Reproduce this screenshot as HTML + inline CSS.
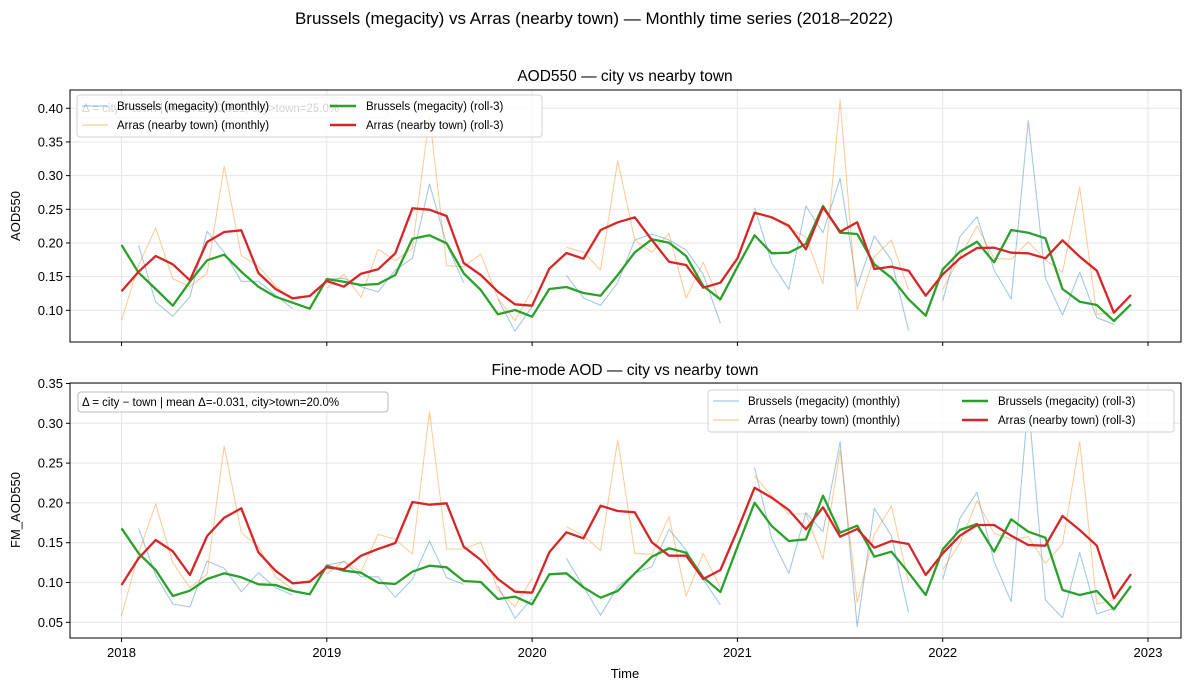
<!DOCTYPE html>
<html><head><meta charset="utf-8"><style>
body{margin:0;background:#fff;}
svg text{font-family:"Liberation Sans","DejaVu Sans",sans-serif;fill:#000;}
</style></head><body>
<svg id="s" width="1189" height="691" xmlns="http://www.w3.org/2000/svg">
<rect width="1189" height="691" fill="#fff"/>
<text x="594" y="24" font-size="17" text-anchor="middle">Brussels (megacity) vs Arras (nearby town) — Monthly time series (2018–2022)</text>
<text x="625" y="81" font-size="15.5" text-anchor="middle">AOD550 — city vs nearby town</text>
<text x="625" y="375" font-size="15.5" text-anchor="middle">Fine-mode AOD — city vs nearby town</text>
<g id="grid"></g>
<g id="lines"></g>
<rect x="70" y="90" width="1111" height="252" fill="none" stroke="#000" stroke-width="1"/>
<rect x="70" y="383" width="1111" height="255" fill="none" stroke="#000" stroke-width="1"/>
<g id="ticks" font-size="13"></g>
<text x="20" y="216" font-size="13" text-anchor="middle" transform="rotate(-90 20 216)">AOD550</text>
<text x="20" y="510" font-size="13" text-anchor="middle" transform="rotate(-90 20 510)">FM_AOD550</text>
<text x="625" y="678" font-size="13" text-anchor="middle">Time</text>
<!-- top annotation (behind legend) -->
<rect x="78" y="98" width="310" height="20" rx="3" fill="#fff" stroke="#ccc"/>
<text x="82" y="112" font-size="11.5">Δ = city − town | mean Δ=-0.021, city&gt;town=25.0%</text>
<!-- top legend -->
<rect x="77" y="95" width="465" height="42" rx="3" fill="rgba(255,255,255,0.82)" stroke="#d0d0d0"/>
<line x1="82" y1="106" x2="108" y2="106" stroke="#1f77b4" stroke-opacity="0.4" stroke-width="1.2"/>
<text x="117" y="110" font-size="11.5">Brussels (megacity) (monthly)</text>
<line x1="82" y1="125" x2="108" y2="125" stroke="#ff7f0e" stroke-opacity="0.4" stroke-width="1.2"/>
<text x="117" y="129" font-size="11.5">Arras (nearby town) (monthly)</text>
<line x1="330" y1="106" x2="356" y2="106" stroke="#2ca02c" stroke-width="2.5"/>
<text x="366" y="110" font-size="11.5">Brussels (megacity) (roll-3)</text>
<line x1="330" y1="125" x2="356" y2="125" stroke="#d62728" stroke-width="2.5"/>
<text x="366" y="129" font-size="11.5">Arras (nearby town) (roll-3)</text>
<!-- bottom annotation -->
<rect x="78" y="392" width="310" height="20" rx="3" fill="#fff" stroke="#bbb"/>
<text x="82" y="406" font-size="11.5">Δ = city − town | mean Δ=-0.031, city&gt;town=20.0%</text>
<!-- bottom legend -->
<rect x="708" y="390" width="466" height="42" rx="3" fill="rgba(255,255,255,0.82)" stroke="#d0d0d0"/>
<line x1="713" y1="401" x2="739" y2="401" stroke="#1f77b4" stroke-opacity="0.4" stroke-width="1.2"/>
<text x="748" y="405" font-size="11.5">Brussels (megacity) (monthly)</text>
<line x1="713" y1="420" x2="739" y2="420" stroke="#ff7f0e" stroke-opacity="0.4" stroke-width="1.2"/>
<text x="748" y="424" font-size="11.5">Arras (nearby town) (monthly)</text>
<line x1="962" y1="401" x2="988" y2="401" stroke="#2ca02c" stroke-width="2.5"/>
<text x="998" y="405" font-size="11.5">Brussels (megacity) (roll-3)</text>
<line x1="962" y1="420" x2="988" y2="420" stroke="#d62728" stroke-width="2.5"/>
<text x="998" y="424" font-size="11.5">Arras (nearby town) (roll-3)</text>
</svg>
<script>
var N=null;
var T={
b:[N,466,636,679,620,424,487,574,574,615,656,N,567,565,590,606,540,505,282,462,578,N,628,723,650,N,556,624,646,578,450,432,450,480,553,700,N,353,518,598,348,428,265,590,438,510,722,N,632,440,380,540,627,92,565,675,547,683,703,N],
o:[691,526,414,566,590,550,228,497,528,587,632,N,595,553,622,478,512,475,75,527,530,492,625,692,600,N,472,487,540,212,450,487,430,625,517,638,N,372,380,415,440,582,30,660,500,450,600,N,598,500,408,505,508,455,510,547,292,673,668,N],
g:[465,548,597,647,575,511,494,545,590,620,638,656,567,575,585,582,555,446,436,460,550,600,673,660,680,597,591,609,617,555,487,448,458,498,588,628,530,436,490,488,462,348,428,432,523,563,628,677,538,485,455,517,420,428,445,597,635,645,693,643],
r:[604,545,498,523,571,456,426,421,549,597,625,618,573,590,551,538,490,355,359,378,519,555,605,643,647,536,489,506,420,397,382,450,515,525,593,578,505,368,382,407,478,352,425,397,537,530,542,617,553,505,474,473,488,490,505,451,500,542,668,615]};
var B={
b:[N,445,585,672,681,543,565,635,578,623,645,N,555,545,590,590,652,598,483,593,613,N,618,715,655,N,535,620,706,620,580,560,448,510,598,675,N,263,475,580,398,455,185,740,385,467,698,N,598,415,337,545,665,65,660,713,518,702,685,N],
o:[708,520,372,548,623,583,198,458,500,590,628,N,582,543,575,463,478,522,95,507,507,487,630,680,595,N,440,467,512,180,520,523,410,648,520,623,N,288,348,402,402,537,210,668,463,378,607,N,568,490,362,460,478,470,550,492,185,672,660,N],
g:[445,520,570,648,632,597,580,592,613,615,633,643,557,572,578,608,612,575,557,562,603,606,657,650,673,583,580,622,653,633,580,530,505,518,592,636,500,368,438,483,478,347,458,437,530,515,578,645,508,450,432,515,418,455,473,630,645,633,688,618],
r:[615,535,480,514,585,468,413,385,517,572,610,605,562,568,527,507,489,366,374,370,500,540,597,635,638,517,457,475,377,393,397,487,527,527,597,570,450,323,353,390,448,382,470,447,503,483,492,585,520,467,435,435,467,495,497,408,450,497,655,582]};
var ns="http://www.w3.org/2000/svg",L=document.getElementById('lines'),G=document.getElementById('grid'),K=document.getElementById('ticks');
function el(t,a,p){var e=document.createElementNS(ns,t);for(var k in a)e.setAttribute(k,a[k]);(p||L).appendChild(e);return e;}
var sty={b:['#1f77b4',0.4,1.1],o:['#ff7f0e',0.4,1.1],g:['#2ca02c',1,2.3],r:['#d62728',1,2.3]};
function draw(D,y0){['b','o','g','r'].forEach(function(k){var seg=[];var arr=D[k];
 function flush(){if(seg.length>1)el('polyline',{points:seg.join(' '),fill:'none',stroke:sty[k][0],'stroke-opacity':sty[k][1],'stroke-width':sty[k][2],'stroke-linejoin':'round'});seg=[];}
 for(var i=0;i<60;i++){if(arr[i]===null){flush();continue;}seg.push((121.5+17.11*i).toFixed(1)+','+(y0+arr[i]/3).toFixed(1));}flush();});}
draw(T,90);draw(B,380);
// grids & ticks
var years=['2018','2019','2020','2021','2022','2023'];
for(var j=0;j<6;j++){var x=121.5+205.3*j;
 el('line',{x1:x,y1:90,x2:x,y2:342,stroke:'#e6e6e6'},G);el('line',{x1:x,y1:383,x2:x,y2:638,stroke:'#e6e6e6'},G);
 el('line',{x1:x,y1:342,x2:x,y2:346,stroke:'#000'},K);el('line',{x1:x,y1:638,x2:x,y2:642,stroke:'#000'},K);
 var t=el('text',{x:x,y:657,'text-anchor':'middle'},K);t.textContent=years[j];}
var tv=['0.10','0.15','0.20','0.25','0.30','0.35','0.40'];
for(var j=0;j<7;j++){var y=310.3-33.67*j;
 el('line',{x1:70,y1:y,x2:1181,y2:y,stroke:'#e6e6e6'},G);el('line',{x1:66,y1:y,x2:70,y2:y,stroke:'#000'},K);
 var t=el('text',{x:63,y:y+4.5,'text-anchor':'end'},K);t.textContent=tv[j];}
var bv=['0.05','0.10','0.15','0.20','0.25','0.30','0.35'];
for(var j=0;j<7;j++){var y=622.3-39.8*j;
 el('line',{x1:70,y1:y,x2:1181,y2:y,stroke:'#e6e6e6'},G);el('line',{x1:66,y1:y,x2:70,y2:y,stroke:'#000'},K);
 var t=el('text',{x:63,y:y+4.5,'text-anchor':'end'},K);t.textContent=bv[j];}
</script>
</body></html>
